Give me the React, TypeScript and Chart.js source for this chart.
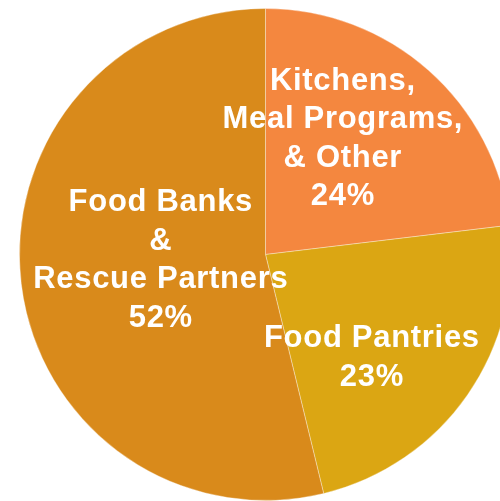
import React, { useEffect, useRef } from "react";
import { Chart, registerables } from "chart.js";

Chart.register(...registerables);

const categories = ["Kitchens, Meal Programs, & Other", "Food Pantries", "Food Banks & Rescue Partners"];
const shares = [23.1, 23.1, 53.8];
const percentLabels = ["24%", "23%", "52%"];
const labelLines = [
  ["Kitchens,", "Meal Programs,", "& Other"],
  ["Food Pantries"],
  ["Food Banks", "&", "Rescue Partners"],
];
const sliceColors = ["#F4873F", "#DBA613", "#D98A1B"];

const labelPlugin = {
  id: "sliceLabels",
  afterDatasetsDraw(chart: any, _args: any, opts: any) {
    const meta = chart.getDatasetMeta(0);
    const ctx = chart.ctx;
    ctx.save();
    ctx.fillStyle = "#FFFFFF";
    ctx.font = opts.font;
    ctx.textAlign = "left";
    ctx.textBaseline = "alphabetic";
    ctx.letterSpacing = opts.letterSpacing + "px";
    meta.data.forEach((arc: any, i: number) => {
      const R = arc.outerRadius;
      const off = opts.offsets[i];
      const cx = arc.x + off[0] * R;
      const cy = arc.y + off[1] * R;
      const lines = [...labelLines[i], percentLabels[i]];
      const n = lines.length;
      lines.forEach((t, k) => {
        const w = ctx.measureText(t).width - opts.letterSpacing;
        ctx.fillText(t, cx - w / 2, cy + (k - (n - 1) / 2) * opts.lineHeight);
      });
    });
    ctx.restore();
  },
};

export default function App() {
  const ref = useRef<HTMLCanvasElement>(null);
  useEffect(() => {
    if (!ref.current) return;
    const chart = new Chart(ref.current, {
      type: "pie",
      data: {
        labels: categories,
        datasets: [
          {
            data: shares,
            backgroundColor: sliceColors,
            borderColor: "rgba(255,255,255,0.35)",
            borderWidth: 1,
          },
        ],
      },
      options: {
        animation: false,
        responsive: true,
        maintainAspectRatio: false,
        layout: { padding: 0 },
        plugins: {
          legend: { display: false },
          tooltip: { enabled: false },
          sliceLabels: {
            font: "bold 31px 'Liberation Sans', Arial, sans-serif",
            letterSpacing: 0.7,
            lineHeight: 38.5,
            offsets: [
              [0.313, -0.435],
              [0.431, 0.455],
              [-0.427, 0.059],
            ],
          },
        } as any,
      },
      plugins: [labelPlugin],
    });
    return () => chart.destroy();
  }, []);
  return (
    <div style={{ position: "fixed", left: 0, top: 0, width: 500, height: 501, overflow: "hidden", background: "#fff" }}>
      <div style={{ position: "absolute", left: 19, top: 8, width: 493, height: 493 }}>
        <canvas ref={ref} />
      </div>
    </div>
  );
}
